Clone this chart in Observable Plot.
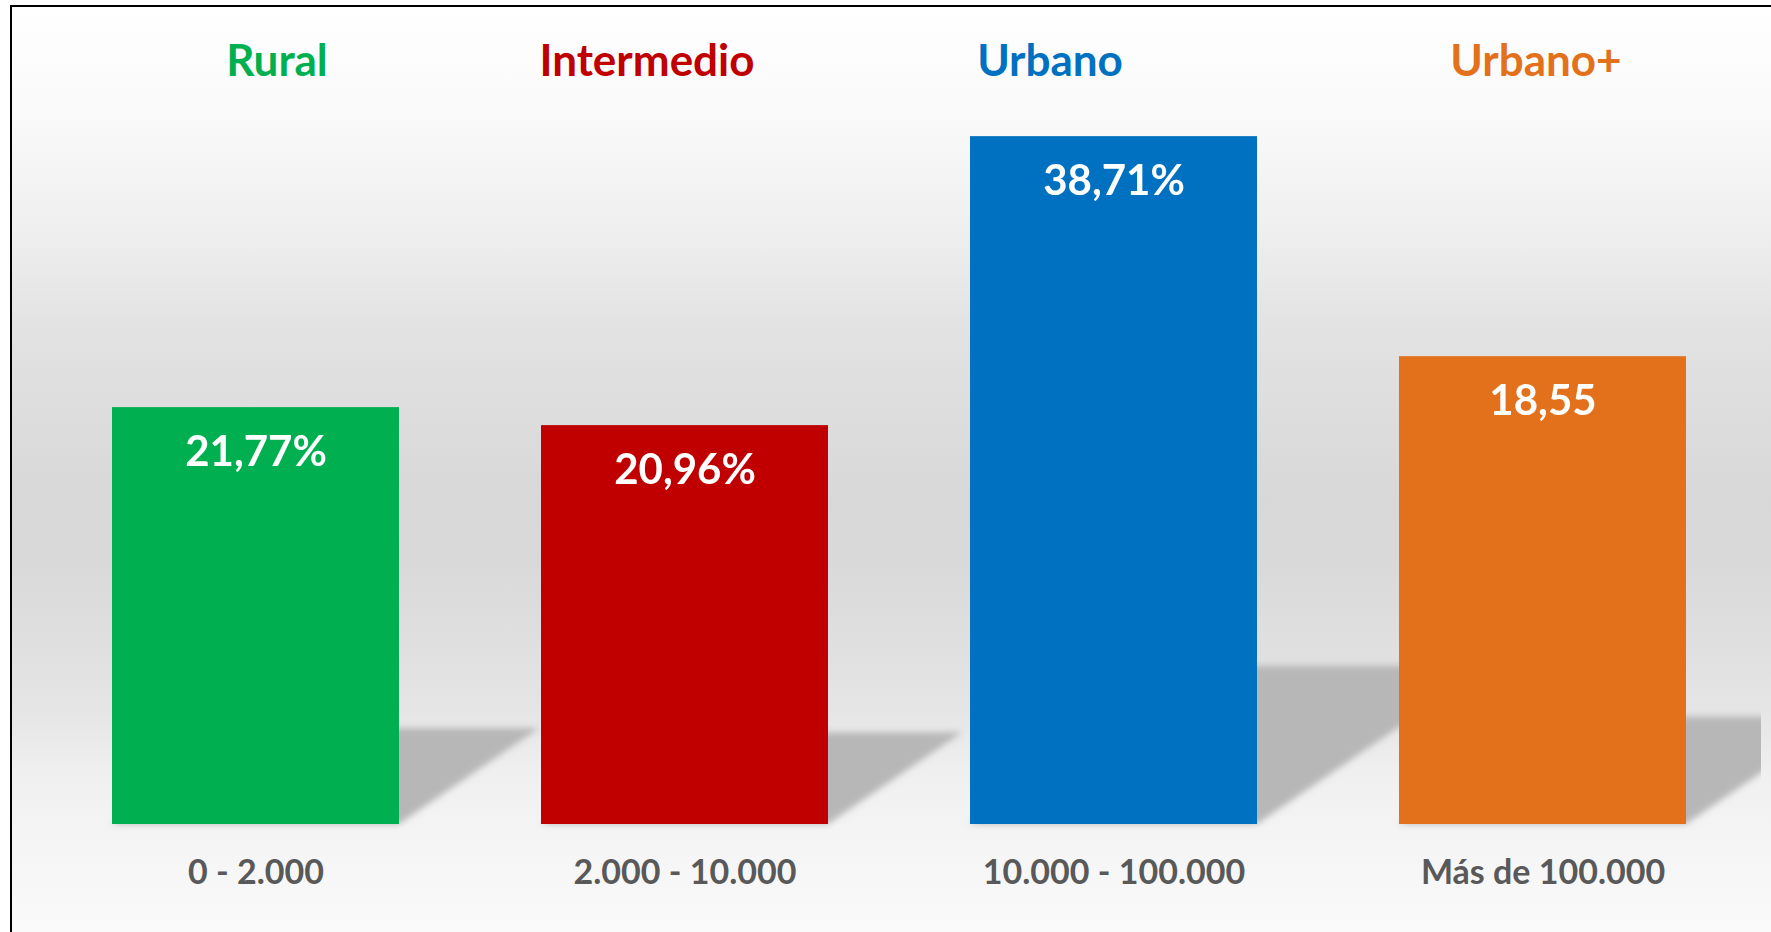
<!DOCTYPE html>
<html>
<head>
<meta charset="utf-8">
<script src="https://cdn.jsdelivr.net/npm/d3@7"></script>
<script src="https://cdn.jsdelivr.net/npm/@observablehq/plot@0.6"></script>
<style>
  html, body { margin: 0; padding: 0; overflow: hidden; background: #ffffff; }
  #wrap { position: relative; width: 1771px; height: 932px; overflow: hidden; }
  #frame {
    position: absolute; left: 10px; top: 5px; right: 0; bottom: 0;
    border-top: 2px solid #000; border-left: 2px solid #000;
    background: linear-gradient(to bottom,
      #ffffff 0px, #f9f9f9 113px, #efefef 223px, #e3e3e3 313px, #dfdfdf 373px,
      #d8d8d8 493px, #d9d9d9 553px, #dfdfdf 633px, #e5e5e5 703px, #efefef 763px,
      #f4f4f4 823px, #fafafa 925px);
  }
  #chart { position: absolute; left: 0; top: 0; }
</style>
</head>
<body>
<div id="wrap"><div id="frame"></div><div id="chart"></div></div>
<script>
// ---- data ----
const categories   = ["0 - 2.000", "2.000 - 10.000", "10.000 - 100.000", "Más de 100.000"];
const groupTitles  = ["Rural", "Intermedio", "Urbano", "Urbano+"];
const valueLabels  = ["21,77%", "20,96%", "38,71%", "18,55"];
// bar lengths as drawn in the picture (same units as the labels; the original is not to scale)
const barLengths   = [21.77, 20.83, 35.92, 24.43];
const barColors    = ["#00B050", "#C00000", "#0070C0", "#E3711C"];

const rows = categories.map((c, i) => ({
  cat: c, title: groupTitles[i], label: valueLabels[i], len: barLengths[i]
}));

// layout nudges for the group titles (they are not exactly centred in the original)
const titleNudge = [21, -38, -64, -7];
const shadowRatio = 0.23;
const SHADOW = "#b7b7b7";

const chart = Plot.plot({
  width: 1771,
  height: 932,
  marginLeft: 112,
  marginRight: 84,
  marginTop: 58,
  marginBottom: 108,
  style: { background: "transparent", fontFamily: "Lato, 'Open Sans', sans-serif", fontWeight: "bold" },
  x: { domain: categories, paddingInner: 0.33, paddingOuter: 0, axis: null, label: null },
  y: { domain: [0, 40], axis: null },
  color: { domain: categories, range: barColors },
  marks: [
    Plot.barY(rows, { x: "cat", y: d => d.len * shadowRatio, fill: SHADOW }),
    Plot.barY(rows, { x: "cat", y: "len", fill: "cat" }),
    Plot.text(rows, { x: "cat", y: "len", text: "label", fill: "white", fontSize: 42, lineAnchor: "middle", dy: 45 }),
    ...rows.map((d, i) => Plot.text([d], {
      x: "cat", text: "title", fill: "cat", fontSize: 44,
      frameAnchor: "top", lineAnchor: "bottom", dy: 17, dx: titleNudge[i]
    })),
    Plot.axisX({ tickSize: 0, tickPadding: 35, fontSize: 34, fill: "#595959", label: null })
  ]
});

document.getElementById("chart").appendChild(chart);

// perspective shadow: skew the shadow bars backwards and soften them
const svg = d3.select(chart);
const defs = svg.insert("defs", ":first-child");
defs.append("filter").attr("id", "sblur")
  .attr("x", "-30%").attr("y", "-30%").attr("width", "160%").attr("height", "160%")
  .append("feGaussianBlur").attr("stdDeviation", 3.2);
defs.append("clipPath").attr("id", "sclip")
  .append("rect").attr("x", 0).attr("y", 0).attr("width", 1761).attr("height", 932);
const sg = svg.selectAll("g").filter(function () {
  return this.getAttribute("aria-label") === "bar" && this.getAttribute("fill") === SHADOW;
});
sg.attr("filter", "url(#sblur)");
sg.selectAll("rect").each(function () {
  const r = d3.select(this);
  const yb = +r.attr("y") + +r.attr("height");
  r.attr("transform", `translate(0,${yb}) skewX(-55.6) translate(0,${-yb})`);
});
// clip the skewed shadows at the right edge of the picture area
sg.each(function () {
  const wrapG = svg.insert("g", () => this).attr("clip-path", "url(#sclip)").node();
  wrapG.appendChild(this);
});
</script>
</body>
</html>
